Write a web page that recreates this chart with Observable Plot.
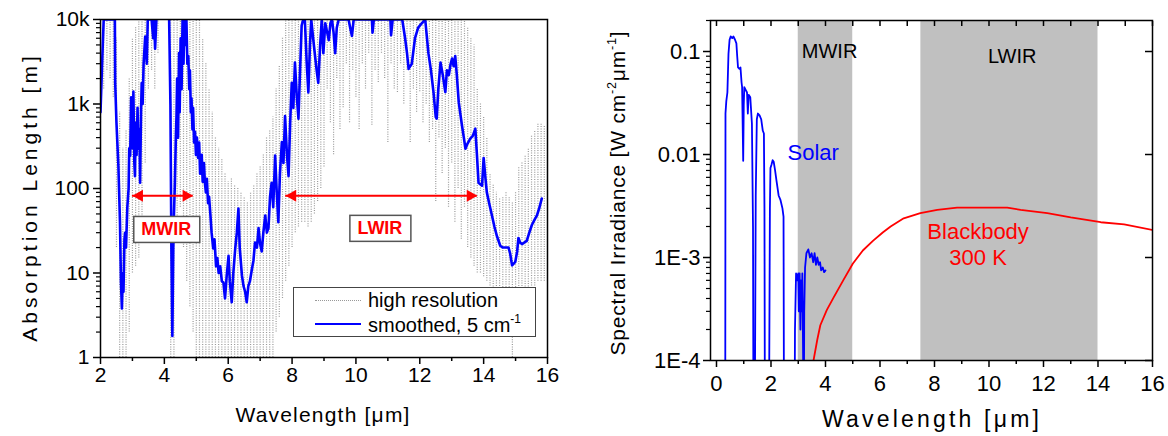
<!DOCTYPE html>
<html><head><meta charset="utf-8">
<script src="https://cdn.jsdelivr.net/npm/d3@7"></script>
<script src="https://cdn.jsdelivr.net/npm/@observablehq/plot@0.6"></script>
<style>
body{margin:0;background:#fff;font-family:"Liberation Sans",Arial,sans-serif;}
#wrap{position:relative;width:1168px;height:436px;overflow:hidden;background:#fff;}
#left{position:absolute;left:0;top:0;}
#right{position:absolute;left:584px;top:0;}
#legend{position:absolute;left:293px;top:287px;width:241px;height:48px;border:1.5px solid #444;background:#fff;font-size:20px;color:#000;}
.lrow{position:absolute;left:0;height:22px;display:flex;align-items:center;}
.lsample{width:46px;margin-left:21px;margin-right:7px;}
</style></head><body>
<div id="wrap">
  <div id="left"></div>
  <div id="right"></div>
  <div id="legend">
    <div class="lrow" style="top:1px"><div class="lsample" style="border-top:1.5px dotted #999"></div><span>high resolution</span></div>
    <div class="lrow" style="top:25px"><div class="lsample" style="border-top:2.5px solid #0000ff"></div><span>smoothed, 5 cm<sup style="font-size:12px;vertical-align:9px">-1</sup></span></div>
  </div>
</div>
<script>
// ---------- LEFT PANEL DATA ----------
// high-resolution absorption spectrum envelope: [wavelength µm, lower m, upper m]
const hiRes = [
[2.0,600,10000],[2.1,1500,10000],[2.2,2500,10000],[2.3,2000,10000],[2.4,1200,10000],
[2.5,20,6000],[2.6,1,800],[2.7,1,300],[2.8,1,500],[2.9,2,2000],
[3.0,10,6000],[3.1,12,8000],[3.2,15,10000],[3.3,40,10000],[3.4,200,10000],
[3.5,1500,10000],[3.6,2500,10000],[3.7,1500,10000],[3.8,4000,10000],
[4.2,1,10000],[4.3,1,10000],[4.4,30,10000],[4.5,60,10000],[4.6,20,10000],
[4.7,8,10000],[4.8,4,10000],[4.9,2,10000],[5.0,1,10000],[5.1,1,10000],
[5.2,1,6000],[5.3,1,3000],[5.4,1,1500],[5.5,1,800],[5.6,1,400],
[5.7,1,300],[5.8,1,220],[5.9,1,150],[6.0,1,120],[6.1,1,130],
[6.2,1,110],[6.3,1,100],[6.4,1,90],[6.5,1,80],[6.6,1,70],
[6.7,1,90],[6.8,1,110],[6.9,1,150],[7.0,1,180],[7.1,1,260],
[7.2,1,400],[7.3,1,500],[7.4,1,700],[7.5,2,1500],[7.6,3,2800],
[7.7,5,6000],[7.8,8,10000],[7.9,12,10000],[8.0,20,10000],[8.1,30,10000],
[8.2,35,10000],[8.3,40,10000],[8.4,40,10000],[8.5,35,10000],[8.6,40,10000],
[8.7,50,10000],[8.8,70,10000],[8.9,100,10000],[9.0,180,10000],[9.1,1500,10000],
[9.2,600,10000],[9.3,250,10000],[9.4,2000,10000],[9.5,500,10000],[9.6,900,10000],
[9.7,3000,10000],[9.8,600,10000],[9.9,2500,10000],[10.0,1200,10000],[10.1,500,10000],
[10.2,3000,10000],[10.3,1500,10000],[10.4,4000,10000],[10.5,560,10000],[10.6,2500,10000],
[10.7,1800,10000],[10.8,4000,10000],[10.9,2000,10000],[11.0,350,10000],[11.1,3000,10000],
[11.2,1500,10000],[11.3,1370,10000],[11.4,3000,10000],[11.5,1000,10000],[11.6,2500,10000],
[11.7,350,10000],[11.8,1500,10000],[11.9,800,10000],[12.0,1400,10000],[12.1,600,10000],
[12.2,1000,10000],[12.3,350,10000],[12.4,500,10000],[12.5,70,10000],[12.6,400,10000],
[12.7,150,10000],[12.8,300,10000],[12.9,60,10000],[13.0,200,10000],[13.1,40,10000],
[13.2,100,10000],[13.3,25,10000],[13.4,60,10000],[13.5,20,8000],[13.6,15,6000],
[13.7,12,5000],[13.8,10,1500],[13.9,10,1000],[14.0,9,720],[14.1,8,400],
[14.2,7,150],[14.3,6,110],[14.4,5,90],[14.5,5,76],[14.6,4,80],
[14.7,4,90],[14.8,4,80],[14.9,1,70],[15.0,4,90],[15.1,5,180],
[15.2,5,200],[15.3,6,240],[15.4,6,300],[15.5,7,420],[15.6,7,480],
[15.7,8,580],[15.8,8,600],[15.9,8,560],[16.0,8,500]
];
// smoothed (5 cm-1) absorption length: [wavelength µm, length m]
const smoothed = [
[2.00,800],[2.05,3000],[2.10,10000],[2.45,10000],[2.46,1800],[2.50,600],[2.56,186],[2.61,40],[2.64,8],[2.67,3.8],
[2.70,10],[2.72,6],[2.75,25],[2.77,30],[2.80,20],[2.84,60],[2.88,100],[2.90,300],[2.93,245],[2.96,1200],
[2.98,720],[3.00,300],[3.03,1400],[3.06,200],[3.08,140],[3.10,600],[3.13,250],[3.16,900],[3.19,295],[3.22,500],
[3.24,117],[3.27,800],[3.29,1770],[3.32,1000],[3.35,3000],[3.40,6300],[3.45,3000],[3.48,10000],[3.60,10000],[3.65,6000],
[3.68,10000],[3.71,4500],[3.75,10000],[3.80,30000],[4.10,30000],[4.15,10000],[4.19,1000],[4.22,20],[4.25,1.8],[4.28,20],
[4.30,48],[4.33,117],[4.36,400],[4.38,720],[4.40,2000],[4.43,400],[4.46,4000],[4.48,800],[4.51,6000],[4.54,1500],
[4.57,10000],[4.60,3000],[4.63,10000],[4.66,5000],[4.69,10000],[4.72,3000],[4.75,3700],[4.78,1500],[4.80,2500],[4.83,800],
[4.85,1170],[4.88,500],[4.90,900],[4.93,350],[4.96,470],[4.99,250],[5.02,400],[5.06,230],[5.09,350],[5.12,150],
[5.17,250],[5.20,120],[5.24,200],[5.27,117],[5.30,90],[5.33,130],[5.37,67],[5.40,80],[5.44,50],[5.48,30],
[5.53,19.5],[5.57,25],[5.62,12],[5.66,15],[5.70,10],[5.75,12],[5.80,8],[5.85,7.7],[5.90,5],[5.95,9],
[6.01,16],[6.05,8],[6.11,4.5],[6.16,10],[6.22,19.5],[6.27,30],[6.32,58],[6.36,20],[6.43,9.3],[6.48,7],
[6.53,6],[6.58,4.5],[6.63,7],[6.68,8],[6.74,11],[6.79,14],[6.84,23],[6.90,20],[6.95,34],[7.00,22],
[7.05,18],[7.10,30],[7.16,48],[7.21,30],[7.26,34],[7.31,80],[7.36,117],[7.41,60],[7.47,245],[7.52,90],
[7.57,40],[7.62,150],[7.68,355],[7.73,200],[7.78,720],[7.84,250],[7.89,140],[7.94,600],[7.99,1780],[8.04,900],
[8.09,3100],[8.15,1200],[8.20,670],[8.25,2500],[8.30,8500],[8.35,10000],[8.40,10000],[8.46,3000],[8.51,1370],[8.56,5000],
[8.60,10000],[8.66,6000],[8.72,3700],[8.77,2500],[8.82,1780],[8.88,5000],[8.93,10000],[8.98,4000],[9.04,9000],[9.10,7000],
[9.15,5700],[9.20,9000],[9.25,10000],[9.30,7000],[9.35,4000],[9.40,8000],[9.46,10000],[9.56,10000],[9.77,10000],[9.82,8000],
[9.875,6400],[9.93,10000],[10.50,10000],[10.52,7000],[10.56,10000],[11.08,10000],[11.10,6500],[11.15,10000],[11.45,10000],[11.54,6000],
[11.60,4000],[11.65,2600],[11.70,2800],[11.75,3000],[11.85,6000],[11.95,8000],[12.06,9000],[12.17,10000],[12.27,4000],[12.35,2500],
[12.43,1370],[12.50,700],[12.53,670],[12.58,1500],[12.65,3100],[12.72,2200],[12.80,1380],[12.85,2500],[12.91,2200],[12.96,2900],
[13.01,3450],[13.06,2800],[13.11,3700],[13.16,2200],[13.22,1050],[13.32,560],[13.38,400],[13.43,295],[13.48,330],[13.58,390],
[13.66,420],[13.74,510],[13.79,250],[13.84,117],[13.95,108],[14.00,230],[14.05,140],[14.10,90],[14.18,65],[14.26,48],
[14.34,35],[14.42,27],[14.52,21],[14.60,20],[14.68,20],[14.78,20],[14.83,17],[14.89,12.3],[14.95,13],[14.99,13.5],
[15.05,18],[15.09,26],[15.14,23],[15.20,22],[15.28,23],[15.35,24],[15.43,30],[15.51,37],[15.60,43],[15.67,48],
[15.75,60],[15.82,76]
];
// band annotations (left panel)
const bandNames = ["MWIR", "LWIR"];
const arrowStart = [3.0, 7.8];
const arrowEnd = [4.9, 13.8];
const arrowLevel = [82, 82];
const bandLabelX = [4.06, 10.75];
const bandLabelY = [33, 34];
const leftXTicks = [2,4,6,8,10,12,14,16];
const leftXMinor = [3,5,7,9,11,13,15];
const leftYTicks = [1,10,100,1000,10000];
const leftYTickLabels = ["1","10","100","1k","10k"];

// ---------- RIGHT PANEL DATA ----------
// solar spectral irradiance [µm, W cm^-2 µm^-1]
const solar = [
[0.30,1e-5],[0.32,1e-5],[0.33,0.025],[0.36,0.033],[0.40,0.04],[0.44,0.095],[0.48,0.13],[0.52,0.14],[0.58,0.135],[0.62,0.14],
[0.68,0.13],[0.73,0.12],[0.76,0.09],[0.79,0.07],[0.84,0.068],[0.88,0.07],[0.92,0.05],[0.94,0.045],[0.96,0.02],[0.98,0.0087],
[1.00,0.03],[1.02,0.045],[1.08,0.042],[1.12,0.04],[1.15,0.025],[1.18,0.038],[1.24,0.036],[1.30,0.02],[1.34,0.002],[1.36,1e-5],
[1.40,1e-5],[1.44,0.004],[1.48,0.022],[1.52,0.025],[1.58,0.024],[1.64,0.022],[1.70,0.017],[1.74,0.016],[1.76,0.003],[1.78,1e-5],
[1.92,1e-5],[1.96,0.003],[1.98,0.0074],[2.02,0.008],[2.06,0.0088],[2.10,0.0085],[2.15,0.007],[2.20,0.0056],[2.28,0.004],[2.35,0.0036],
[2.42,0.003],[2.46,0.0025],[2.48,1e-5],[2.86,1e-5],[2.88,0.0002],[2.92,0.0007],[2.96,0.0006],[3.00,0.0007],[3.02,0.0003],[3.05,0.0007],
[3.08,0.0002],[3.10,0.0006],[3.13,0.0003],[3.15,0.0007],[3.18,0.0001],[3.20,1e-5],[3.22,0.0003],[3.25,0.0008],[3.30,0.0011],[3.37,0.0012],
[3.43,0.001],[3.49,0.0011],[3.55,0.0009],[3.60,0.0011],[3.65,0.00085],[3.70,0.001],[3.75,0.00085],[3.80,0.0009],[3.84,0.00075],[3.90,0.0008],
[3.95,0.00072],[4.00,0.00075]
];
// 300 K blackbody spectral irradiance [µm, W cm^-2 µm^-1]
const blackbody = [
[3.50,8e-5],[3.56,1e-4],[3.70,1.6e-4],[3.81,2.2e-4],[4.05,3.1e-4],[4.30,4.1e-4],[4.65,6e-4],[5.00,8.7e-4],[5.37,1.17e-3],[5.74,1.45e-3],
[6.10,1.75e-3],[6.39,2.0e-3],[6.87,2.4e-3],[7.48,2.7e-3],[8.10,2.9e-3],[8.83,3.05e-3],[9.93,3.05e-3],[10.67,3.05e-3],[11.16,2.9e-3],[12.14,2.7e-3],
[13.00,2.45e-3],[14.10,2.2e-3],[14.96,2.1e-3],[16.00,1.85e-3]
];
const shadeNames = ["MWIR", "LWIR"];
const shadeStart = [3.0, 7.5];
const shadeEnd = [5.0, 14.0];
const shadeLabelX = [4.15, 10.85];
const shadeLabelY = [0.1, 0.09];
const curveLabels = ["Solar", "Blackbody", "300 K"];
const curveLabelX = [3.55, 9.6, 9.6];
const curveLabelY = [0.0103, 0.00178, 0.001];
const curveLabelColor = ["#0000ff", "#ff0000", "#ff0000"];
const rightXTicks = [0,2,4,6,8,10,12,14,16];
const rightXMinor = [1,3,5,7,9,11,13,15];
const rightXTop = [0,1,2,3,4,5,6,7,8,9,10,11,12,13,14,15,16];
const rightYTicks = [1e-4,1e-3,0.01,0.1];
const rightYTickLabels = ["1E-4","1E-3","0.01","0.1"];

// ---------- BUILD ----------
const FONT = "'Liberation Sans', Arial, sans-serif";
const minorLog = (lo, hi) => { const out = []; for (let d = lo; d < hi; d *= 10) for (let k = 2; k <= 9; k++) if (d*k <= hi) out.push(d*k); return out; };

const hiRows = hiRes.map(([x, lo, hi]) => ({x, lo, hi}));
const smRows = smoothed.map(([x, y]) => ({x, y}));
const arrows = bandNames.map((n, i) => ({name: n, x1: arrowStart[i], x2: arrowEnd[i], y: arrowLevel[i]}));
const bandLabs = bandNames.map((n, i) => ({name: n, x: bandLabelX[i], y: bandLabelY[i]}));

const leftPlot = Plot.plot({
  width: 584, height: 436,
  marginLeft: 100, marginRight: 37, marginTop: 19, marginBottom: 79,
  style: {fontFamily: FONT, fontSize: "21px", color: "#000", background: "transparent"},
  x: {domain: [2, 16]},
  y: {type: "log", domain: [1, 10000]},
  marks: [
    Plot.ruleX(hiRows, {x: "x", y1: "lo", y2: "hi", stroke: "#9a9a9a", strokeWidth: 1.2, strokeDasharray: "1 1.4", clip: true}),
    Plot.line(smRows, {x: "x", y: "y", stroke: "#0000ff", strokeWidth: 2.6, clip: true}),
    Plot.ruleY(arrows, {y: "y", x1: "x1", x2: "x2", stroke: "#ff0000", strokeWidth: 2}),
    Plot.dot(arrows, {x: "x1", y: "y", symbol: "triangle", rotate: -90, r: 4.5, fill: "#ff0000", stroke: "none", dx: 7}),
    Plot.dot(arrows, {x: "x2", y: "y", symbol: "triangle", rotate: 90, r: 4.5, fill: "#ff0000", stroke: "none", dx: -7}),
    Plot.text(bandLabs, {x: "x", y: "y", text: "name", fill: "#ff0000", fontWeight: "bold", fontSize: 18}),
    Plot.frame({stroke: "#000", strokeWidth: 1.5}),
    Plot.axisX({ticks: leftXTicks, tickSize: 7, tickPadding: 3, label: null, fontSize: 21, strokeWidth: 1.5}),
    Plot.axisX({ticks: leftXMinor, tickSize: 4, tickFormat: () => "", label: null, strokeWidth: 1.5}),
    Plot.axisY({ticks: leftYTicks, tickSize: 7, tickPadding: 4, tickFormat: (d) => leftYTickLabels[leftYTicks.indexOf(d)], label: null, fontSize: 21, strokeWidth: 1.5}),
    Plot.axisY({ticks: minorLog(1, 10000), tickSize: 4, tickFormat: () => "", label: null, strokeWidth: 1.2})
  ]
});

const solRows = solar.map(([x, y]) => ({x, y}));
const bbRows = blackbody.map(([x, y]) => ({x, y}));
const shades = shadeNames.map((n, i) => ({name: n, x1: shadeStart[i], x2: shadeEnd[i], lx: shadeLabelX[i], ly: shadeLabelY[i]}));
const clabs = curveLabels.map((t, i) => ({t, x: curveLabelX[i], y: curveLabelY[i], c: curveLabelColor[i]}));

const rightPlot = Plot.plot({
  width: 584, height: 436,
  marginLeft: 126, marginRight: 16, marginTop: 20, marginBottom: 76,
  style: {fontFamily: FONT, fontSize: "21px", color: "#000", background: "transparent"},
  x: {domain: [-0.22, 16]},
  y: {type: "log", domain: [1e-4, 0.2]},
  color: {type: "identity"},
  marks: [
    Plot.rect(shades, {x1: "x1", x2: "x2", fill: "#c0c0c0"}),
    Plot.line(solRows, {x: "x", y: "y", stroke: "#0000ff", strokeWidth: 1.8, clip: true}),
    Plot.line(bbRows, {x: "x", y: "y", stroke: "#ff0000", strokeWidth: 1.8, clip: true}),
    Plot.text(shades, {x: "lx", y: "ly", text: "name", fill: "#000", fontSize: 20}),
    Plot.text(clabs, {x: "x", y: "y", text: "t", fill: "c", fontSize: 22, letterSpacing: 0.6}),
    Plot.frame({stroke: "#000", strokeWidth: 1.5}),
    Plot.axisX({ticks: rightXTicks, tickSize: 7, tickPadding: 8, label: null, fontSize: 22, strokeWidth: 1.5}),
    Plot.axisX({ticks: rightXMinor, tickSize: 4, tickFormat: () => "", label: null, strokeWidth: 1.5}),
    Plot.axisX({anchor: "top", ticks: rightXTop, tickSize: 5, dy: 5, tickFormat: () => "", label: null, strokeWidth: 1.5}),
    Plot.axisY({ticks: rightYTicks, tickSize: 7, tickPadding: 3, tickFormat: (d) => rightYTickLabels[rightYTicks.indexOf(d)], label: null, fontSize: 22, strokeWidth: 1.5}),
    Plot.axisY({ticks: minorLog(1e-4, 0.2), tickSize: 4, tickFormat: () => "", label: null, strokeWidth: 1.2}),
    Plot.axisY({anchor: "right", ticks: rightYTicks, tickSize: 8, dx: -8, tickFormat: () => "", label: null, strokeWidth: 1.5})
  ]
});

document.getElementById("left").appendChild(leftPlot);
document.getElementById("right").appendChild(rightPlot);

// axis titles
function title(svg, x, y, rot, size, ls, parts) {
  const t = d3.select(svg).append("text")
    .attr("transform", `translate(${x},${y}) rotate(${rot})`)
    .attr("text-anchor", "middle")
    .attr("font-family", FONT).attr("font-size", size)
    .attr("letter-spacing", ls).attr("fill", "#000");
  parts.forEach(p => {
    const s = t.append("tspan").text(p.t);
    if (p.sup) s.attr("dy", -9).attr("font-size", size * 0.6);
    if (p.after) s.attr("dy", 9);
  });
}
title(leftPlot, 323, 422, 0, 21, 1.2, [{t: "Wavelength [μm]"}]);
title(leftPlot, 37, 197, -90, 21, 4, [{t: "Absorption Length [m]"}]);
title(rightPlot, 932 - 584, 427, 0, 23, 3.2, [{t: "Wavelength [μm]"}]);
title(rightPlot, 625 - 584, 193, -90, 21, 0.8, [
  {t: "Spectral Irradiance [W cm"}, {t: "-2", sup: true}, {t: "μm", after: true},
  {t: "-1", sup: true}, {t: "]", after: true}
]);

// white boxes behind band labels in the left panel
const svgRect = leftPlot.getBoundingClientRect();
d3.select(leftPlot).selectAll("text").filter(function () {
  return bandNames.includes(this.textContent) && this.parentNode.tagName.toLowerCase() === "g";
}).each(function () {
  const b = this.getBoundingClientRect();
  const r = document.createElementNS("http://www.w3.org/2000/svg", "rect");
  r.setAttribute("x", b.left - svgRect.left - 8);
  r.setAttribute("y", b.top - svgRect.top - 3);
  r.setAttribute("width", b.width + 16);
  r.setAttribute("height", b.height + 6);
  r.setAttribute("fill", "#fff");
  r.setAttribute("stroke", "#555");
  r.setAttribute("stroke-width", "1.5");
  this.parentNode.insertBefore(r, this);
});
</script>
</body></html>
